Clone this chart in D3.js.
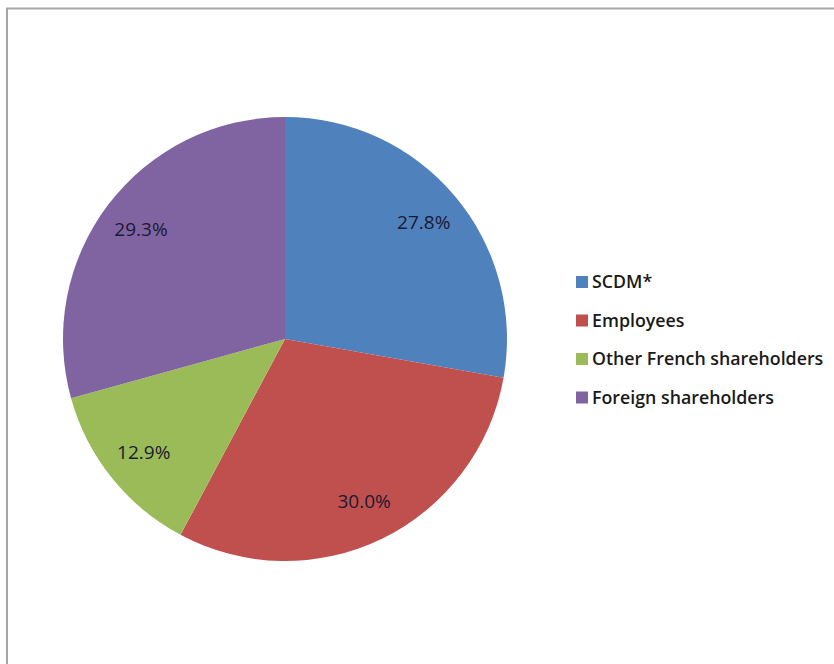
<!DOCTYPE html>
<html><head><meta charset="utf-8">
<script src="https://cdn.jsdelivr.net/npm/d3@7"></script>
<style>body{margin:0;background:#fff}svg{display:block}</style>
</head><body>
<svg id="c" width="834" height="664"></svg>
<script>
const categories = ["SCDM*", "Employees", "Other French shareholders", "Foreign shareholders"];
const values = [27.8, 30.0, 12.9, 29.3];
const labels = ["27.8%", "30.0%", "12.9%", "29.3%"];
const colors = ["#4F81BD", "#C0504D", "#9BBB59", "#8064A2"];

const svg = d3.select("#c");
const font = "'Open Sans', Lato, sans-serif";
// frame
svg.append("path").attr("d", "M7,670 L7,8.5 L840,8.5").attr("fill","none").attr("stroke","#a6a6a6").attr("stroke-width",2);

const cx = 285, cy = 339, R = 222;
const color = d3.scaleOrdinal().domain(categories).range(colors);
const pie = d3.pie().sort(null).value(d => d.v);
const data = categories.map((c,i)=>({c, v: values[i], l: labels[i]}));
const arcs = pie(data);
const arc = d3.arc().innerRadius(0).outerRadius(R);
const labelArc = d3.arc().innerRadius(181).outerRadius(181);
const g = svg.append("g").attr("transform", `translate(${cx},${cy})`);
g.selectAll("path.s").data(arcs).join("path").attr("class","s")
  .attr("d", arc).attr("fill", d => color(d.data.c));
g.selectAll("text").data(arcs).join("text")
  .attr("transform", d => `translate(${labelArc.centroid(d)})`)
  .attr("text-anchor","middle").attr("dy","0.35em")
  .attr("font-family", font).attr("font-size", 19).attr("fill","#1a1a33")
  .text(d => d.data.l);

const lg = svg.append("g").attr("transform","translate(576,282)");
const rows = lg.selectAll("g").data(categories).join("g")
  .attr("transform",(d,i)=>`translate(0,${i*38.5})`);
rows.append("rect").attr("x",0).attr("y",-6).attr("width",12).attr("height",12).attr("fill", d=>color(d));
rows.append("text").attr("x",16).attr("dy","0.36em")
  .attr("font-family", font).attr("font-size", 17.8).attr("font-weight", 600).attr("fill","#1a1a1a").text(d=>d);
</script>
</body></html>
